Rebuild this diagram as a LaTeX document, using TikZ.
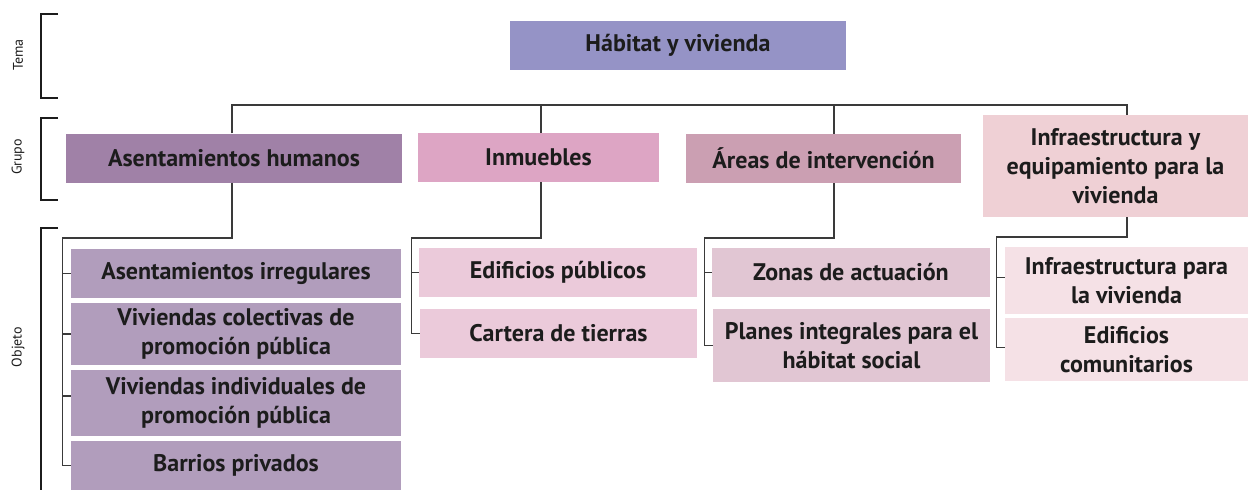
\documentclass[tikz,border=0pt]{standalone}
\usepackage{fontspec}
\setmainfont{PT Sans}
\usetikzlibrary{calc}

\definecolor{temacol}{HTML}{9593C6}
\definecolor{asencol}{HTML}{A081A7}
\definecolor{inmucol}{HTML}{DDA5C4}
\definecolor{areacol}{HTML}{CB9FB2}
\definecolor{infrcol}{HTML}{EFD0D5}
\definecolor{asenlite}{HTML}{B19DBC}
\definecolor{inmulite}{HTML}{EBCADA}
\definecolor{arealite}{HTML}{E1C6D3}
\definecolor{infrlite}{HTML}{F5E1E6}
\definecolor{inkcol}{HTML}{1C1C1C}
\definecolor{linecol}{HTML}{3A3A3A}

\tikzstyle{cellbox}=[inner sep=0pt,align=center,text=inkcol,font=\fontsize{24}{29}\selectfont\bfseries]
\tikzstyle{treeline}=[draw=linecol,line width=1.3pt]
\tikzstyle{bracketline}=[draw=inkcol,line width=1.3pt]
\tikzstyle{sidelabel}=[rotate=90,text=inkcol,font=\fontsize{14}{16}\selectfont]
\tikzstyle{tickleft}=[shift={(-8pt,0pt)}]

\begin{document}
\begin{tikzpicture}[x=1pt,y=-1pt]
\useasboundingbox (0,0) rectangle (1248,490);

% level brackets
\draw[bracketline] (58,14) -- (41,14) -- (41,98) -- (58,98);
\draw[bracketline] (58,118) -- (41,118) -- (41,200) -- (58,200);
\draw[bracketline] (58,228) -- (41,228) -- (41,490);
\node[sidelabel] (LT) at (18,55) {Tema};
\node[sidelabel] (LG) at (18,157) {Grupo};
\node[sidelabel] (LO) at (18,347) {Objeto};

% theme
\node[cellbox,fill=temacol,minimum width=336pt,minimum height=49pt] (T) at (678,45.5) {Hábitat y vivienda};

% groups
\node[cellbox,fill=asencol,minimum width=336pt,minimum height=49pt] (G1) at (234,158) {Asentamientos humanos};
\node[cellbox,fill=inmucol,minimum width=241pt,minimum height=49pt] (G2) at (538.5,157.5) {Inmuebles};
\node[cellbox,fill=areacol,minimum width=275pt,minimum height=49pt] (G3) at (823.5,158.5) {Áreas de intervención};
\node[cellbox,fill=infrcol,minimum width=265pt,minimum height=102pt] (G4) at (1115.5,166) {Infraestructura y\\equipamiento para la\\vivienda};

% objects
\node[cellbox,fill=asenlite,minimum width=330pt,minimum height=49pt] (A1) at (236,273.5) {Asentamientos irregulares};
\node[cellbox,fill=asenlite,minimum width=330pt,minimum height=62pt] (A2) at (236,334) {Viviendas colectivas de\\promoción pública};
\node[cellbox,fill=asenlite,minimum width=330pt,minimum height=66pt] (A3) at (236,403) {Viviendas individuales de\\promoción pública};
\node[cellbox,fill=asenlite,minimum width=330pt,minimum height=49pt] (A4) at (236,465.5) {Barrios privados};

\node[cellbox,fill=inmulite,minimum width=278pt,minimum height=49pt] (I1) at (558,272.5) {Edificios públicos};
\node[cellbox,fill=inmulite,minimum width=277pt,minimum height=49pt] (I2) at (558.5,333.5) {Cartera de tierras};

\node[cellbox,fill=arealite,minimum width=278pt,minimum height=49pt] (Z1) at (851,272.5) {Zonas de actuación};
\node[cellbox,fill=arealite,minimum width=277pt,minimum height=73pt] (Z2) at (851.5,345.5) {Planes integrales para el\\hábitat social};

\node[cellbox,fill=infrlite,minimum width=243pt,minimum height=67pt] (E1) at (1126.5,280.5) {Infraestructura para\\la vivienda};
\node[cellbox,fill=infrlite,minimum width=243pt,minimum height=63pt] (E2) at (1126.5,349.5) {Edificios\\comunitarios};

% bus from theme level to groups
\coordinate (BUSL) at (232,105);
\coordinate (BUSR) at (1127,105);
\draw[treeline] (G1.north -| BUSL) -- (BUSL) -- (BUSR) -- (G4.north -| BUSR);
\draw[treeline] (G2.north -| 541,0) -- (541,105);
\draw[treeline] (G3.north -| 834,0) -- (834,105);

% group to objects
\coordinate (J1) at (232,238);
\coordinate (J2) at (541,238);
\coordinate (J3) at (834,238);
\coordinate (J4) at (1127,237);
\coordinate[tickleft] (A4W) at (A4.west);
\coordinate[tickleft] (I2W) at (I2.west);
\coordinate[tickleft] (Z2W) at (Z2.west);
\coordinate[tickleft] (E2W) at ([yshift=2pt]E2.west);

\draw[treeline] (G1.south -| J1) -- (J1) -| (A4W) -- (A4.west);
\draw[treeline] (A1.west) -- ++(-8,0);
\draw[treeline] (A2.west) -- ++(-8,0);
\draw[treeline] ([yshift=7pt]A3.west) -- ++(-8,0);

\draw[treeline] (G2.south -| J2) -- (J2) -| (I2W) -- (I2.west);
\draw[treeline] (I1.west) -- ++(-8,0);

\draw[treeline] (G3.south -| J3) -- (J3) -| (Z2W) -- (Z2.west);
\draw[treeline] (Z1.west) -- ++(-8,0);

\draw[treeline] (G4.south -| J4) -- (J4) -| (E2W) -- ([yshift=2pt]E2.west);
\draw[treeline] ([yshift=3pt]E1.west) -- ++(-8,0);

\end{tikzpicture}
\end{document}
